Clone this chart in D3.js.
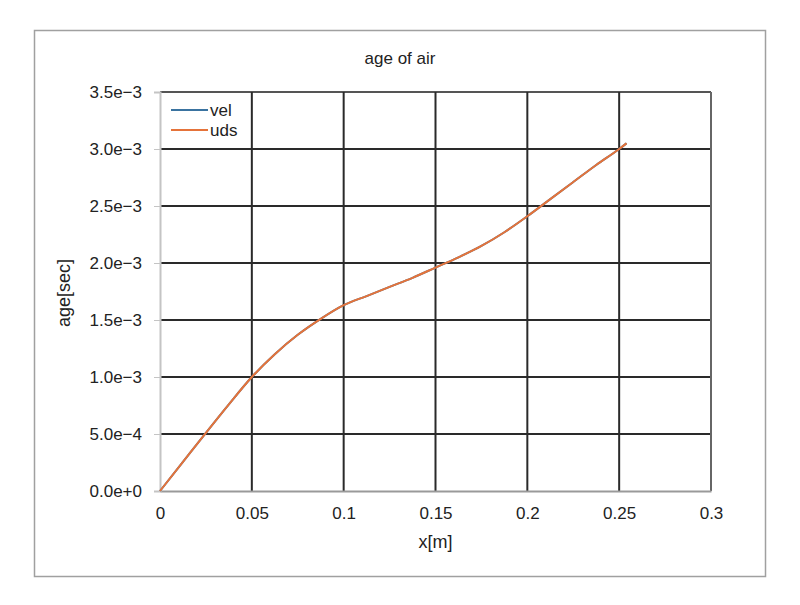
<!DOCTYPE html>
<html>
<head>
<meta charset="utf-8">
<script src="https://cdn.jsdelivr.net/npm/d3@7"></script>
<style>
  body { margin: 0; background: #fff; }
  text { font-family: "Liberation Sans", Arial, sans-serif; fill: #222; }
</style>
</head>
<body>
<svg class="chart" width="800" height="605"></svg>
<script>
// x positions along the domain [m]
const xValues = [0, 0.0125, 0.025, 0.0375, 0.05, 0.0625, 0.075, 0.0875, 0.1, 0.1125, 0.125,
  0.1375, 0.15, 0.1625, 0.175, 0.1875, 0.2, 0.2125, 0.225, 0.2375, 0.25, 0.254];
// age of air [sec], both schemes overlap
const velValues = [0, 0.255e-3, 0.51e-3, 0.76e-3, 1.0e-3, 1.2e-3, 1.37e-3, 1.51e-3, 1.63e-3, 1.71e-3, 1.79e-3,
  1.87e-3, 1.96e-3, 2.05e-3, 2.15e-3, 2.27e-3, 2.41e-3, 2.56e-3, 2.71e-3, 2.86e-3, 3.0e-3, 3.05e-3];
const udsValues = [0, 0.255e-3, 0.51e-3, 0.76e-3, 1.0e-3, 1.2e-3, 1.37e-3, 1.51e-3, 1.63e-3, 1.71e-3, 1.79e-3,
  1.87e-3, 1.96e-3, 2.05e-3, 2.15e-3, 2.27e-3, 2.41e-3, 2.56e-3, 2.71e-3, 2.86e-3, 3.0e-3, 3.05e-3];

const xTicks = [0, 0.05, 0.1, 0.15, 0.2, 0.25, 0.3];
const xTickLabels = ['0', '0.05', '0.1', '0.15', '0.2', '0.25', '0.3'];
const yTicks = [0, 0.5e-3, 1.0e-3, 1.5e-3, 2.0e-3, 2.5e-3, 3.0e-3, 3.5e-3];
const yTickLabels = ['0.0e+0', '5.0e\u22124', '1.0e\u22123', '1.5e\u22123', '2.0e\u22123', '2.5e\u22123', '3.0e\u22123', '3.5e\u22123'];

const series = [
  { name: 'vel', color: '#3a73a0', values: velValues },
  { name: 'uds', color: '#e5733a', values: udsValues }
];

const plot = { left: 160, right: 711, top: 92, bottom: 491 };

const svg = d3.select('svg.chart');

const x = d3.scaleLinear().domain([0, 0.3]).range([plot.left, plot.right]);
const y = d3.scaleLinear().domain([0, 3.5e-3]).range([plot.bottom, plot.top]);

// outer frame
svg.append('rect')
  .attr('x', 34.5).attr('y', 30.5)
  .attr('width', 731).attr('height', 546)
  .attr('fill', 'none')
  .attr('stroke', '#a0a0a0')
  .attr('stroke-width', 1.5);

svg.append('text')
  .attr('x', 400).attr('y', 64)
  .attr('text-anchor', 'middle')
  .style('font-size', '17px')
  .text('age of air');

// grid
svg.append('g').selectAll('line').data(yTicks.slice(1))
  .enter().append('line')
  .attr('x1', plot.left).attr('x2', plot.right)
  .attr('y1', d => y(d)).attr('y2', d => y(d))
  .attr('stroke', d => d === 3.5e-3 ? '#555' : '#2a2a2a')
  .attr('stroke-width', 2);

svg.append('g').selectAll('line').data(xTicks.slice(1))
  .enter().append('line')
  .attr('x1', d => x(d)).attr('x2', d => x(d))
  .attr('y1', plot.top).attr('y2', plot.bottom)
  .attr('stroke', d => d === 0.3 ? '#666' : '#2a2a2a')
  .attr('stroke-width', 2);

// axes
const xAxis = d3.axisBottom(x).tickValues(xTicks)
  .tickFormat((d, i) => xTickLabels[i]).tickSize(0).tickPadding(16);
const yAxis = d3.axisLeft(y).tickValues(yTicks)
  .tickFormat((d, i) => yTickLabels[i]).tickSize(6).tickPadding(12);

const gx = svg.append('g')
  .attr('transform', `translate(0,${plot.bottom})`)
  .call(xAxis);
const gy = svg.append('g')
  .attr('transform', `translate(${plot.left},0)`)
  .call(yAxis);

gx.select('.domain').attr('stroke', '#9a9a9a').attr('stroke-width', 2);
gy.select('.domain').attr('stroke', '#c4c4c4').attr('stroke-width', 2);
[gx, gy].forEach(g => {
  g.selectAll('.tick line').attr('stroke', '#c4c4c4');
  g.selectAll('.tick text')
    .style('font-family', '"Liberation Sans", Arial, sans-serif')
    .style('font-size', '17px')
    .attr('fill', '#222');
});

svg.append('text')
  .attr('x', x(0.15)).attr('y', 548)
  .attr('text-anchor', 'middle')
  .style('font-size', '18px')
  .text('x[m]');

svg.append('text')
  .attr('transform', 'translate(70,293) rotate(-90)')
  .attr('text-anchor', 'middle')
  .style('font-size', '18px')
  .text('age[sec]');

// lines
const line = d3.line()
  .x((d, i) => x(xValues[i]))
  .y(d => y(d))
  .curve(d3.curveMonotoneX);

svg.append('g').selectAll('path').data(series)
  .enter().append('path')
  .attr('d', d => line(d.values))
  .attr('fill', 'none')
  .attr('stroke', d => d.color)
  .attr('stroke-width', 2);

// legend
const legend = svg.append('g').selectAll('g').data(series)
  .enter().append('g')
  .attr('transform', (d, i) => `translate(171,${110 + i * 20})`);

legend.append('line')
  .attr('x1', 0).attr('x2', 37)
  .attr('stroke', d => d.color)
  .attr('stroke-width', 2);

legend.append('text')
  .attr('x', 39).attr('y', 6)
  .style('font-size', '17px')
  .text(d => d.name);
</script>
</body>
</html>
